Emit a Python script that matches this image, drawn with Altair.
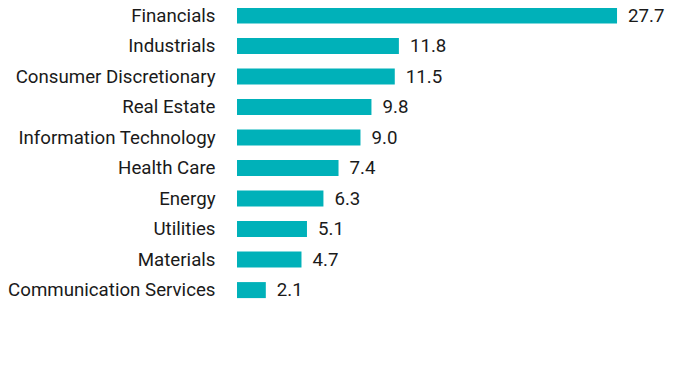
import altair as alt
import pandas as pd

categories = ["Financials", "Industrials", "Consumer Discretionary", "Real Estate",
              "Information Technology", "Health Care", "Energy", "Utilities",
              "Materials", "Communication Services"]
values = [27.7, 11.8, 11.5, 9.8, 9.0, 7.4, 6.3, 5.1, 4.7, 2.1]

df = pd.DataFrame({"cat": categories, "val": values})
df["label"] = df["val"].map(lambda v: f"{v:.1f}")

OFF = -0.4
y = alt.Y("cat:N", sort=categories, title=None,
          scale=alt.Scale(paddingInner=0.475, paddingOuter=0),
          axis=alt.Axis(ticks=False, domain=False, labelPadding=22, labelOffset=OFF,
                        labelFont="Roboto", labelFontSize=18.7, labelColor="#1a1a1a",
                        labelLimit=300))
x = alt.X("val:Q", title=None, scale=alt.Scale(domain=[0, 32.8], nice=False),
          axis=None)

bars = alt.Chart(df).mark_bar(color="#00B1B9", yOffset=OFF).encode(x=x, y=y)
text = alt.Chart(df).mark_text(align="left", baseline="middle", dx=11, yOffset=OFF,
                               font="Roboto", fontSize=18.7, color="#1a1a1a").encode(
    x=x, y=y, text="label:N")

chart = (bars + text).properties(
    width=450, height=290.5,
    autosize=alt.AutoSizeParams(type="none"),
    padding={"left": 229, "top": 0, "right": 0, "bottom": 60},
).configure_view(stroke=None)

chart.save("out.html", embed_options={"renderer": "svg", "actions": False})
